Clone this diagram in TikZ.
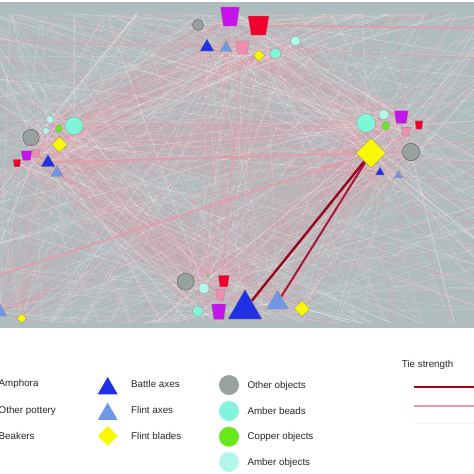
\documentclass[tikz,border=0pt]{standalone}
\usepackage{fontspec}
\setmainfont{Liberation Sans}
\usetikzlibrary{shapes.geometric, backgrounds}
\definecolor{BG}{RGB}{176,189,191}
\definecolor{PU}{RGB}{196,20,235}
\definecolor{RD}{RGB}{242,0,45}
\definecolor{PK}{RGB}{242,140,175}
\definecolor{BA}{RGB}{32,48,228}
\definecolor{FA}{RGB}{112,150,232}
\definecolor{FB}{RGB}{250,248,0}
\definecolor{OO}{RGB}{152,160,160}
\definecolor{AB}{RGB}{128,245,218}
\definecolor{CU}{RGB}{105,232,30}
\definecolor{AO}{RGB}{178,246,236}
\definecolor{TS}{RGB}{150,8,25}
\definecolor{TD}{RGB}{172,22,55}
\definecolor{TW}{RGB}{232,152,168}
\definecolor{DG}{RGB}{70,70,70}

\begin{document}
\begin{tikzpicture}[x=1pt, y=-1pt,
  obj/.style={circle, draw=DG, line width=0.3pt, inner sep=0pt, fill=OO},
  bead/.style={circle, draw=DG!60, line width=0.3pt, inner sep=0pt},
  pot/.style={trapezium, trapezium stretches=true, trapezium angle=78,
    shape border rotate=180, draw=DG!60, line width=0.3pt, inner sep=0.5pt},
  axe/.style={regular polygon, regular polygon sides=3, draw=DG!60,
    line width=0.3pt, inner sep=0pt},
  blade/.style={diamond, draw=DG!60, line width=0.3pt, inner sep=0pt, fill=FB},
  key/.style={font=\fontsize{9.8}{11}\selectfont, text=black!85, anchor=west, inner sep=0pt},
  web/.style={white, line width=0.35pt, opacity=0.3},
  webp/.style={TW, line width=0.35pt, opacity=0.3},
  tie/.style={TW, line width=1.8pt, opacity=0.85},
  strong/.style={TS, line width=2.4pt}]
\useasboundingbox (0,0) rectangle (474,474);

% Top cluster
\node[obj, minimum size=11] (t1) at (198,25) {};
\node[pot, fill=PU, minimum width=19, minimum height=19] (t2) at (230,16.5) {};
\node[pot, fill=RD, minimum width=21, minimum height=19] (t3) at (258.5,25.5) {};
\node[axe, fill=BA, minimum size=16.2] (t4) at (207,47) {};
\node[axe, fill=FA, minimum size=13.9] (t5) at (226,48) {};
\node[pot, fill=PK, minimum width=13, minimum height=13] (t6) at (242.5,47.5) {};
\node[blade, minimum size=12] (t7) at (259,55.5) {};
\node[bead, fill=AB, minimum size=11] (t8) at (275.5,53.5) {};
\node[bead, fill=AO, minimum size=10] (t9) at (295.5,41) {};

% Left cluster
\node[bead, fill=AO, minimum size=8] (l1) at (50,119.5) {};
\node[bead, fill=AO, minimum size=7] (l2) at (46,131) {};
\node[bead, fill=CU, minimum size=7] (l3) at (59,128.5) {};
\node[bead, fill=AB, minimum size=18] (l4) at (74,126) {};
\node[obj, minimum size=16.5] (l5) at (31,137.5) {};
\node[blade, minimum size=16] (l6) at (59.5,144.5) {};
\node[pot, fill=PU, minimum width=11, minimum height=9.5] (l7) at (26.5,155.5) {};
\node[pot, fill=PK, minimum width=8, minimum height=8] (l8) at (36,153.5) {};
\node[pot, fill=RD, minimum width=8, minimum height=7.5] (l9) at (17,163) {};
\node[axe, fill=BA, minimum size=16.2] (l10) at (48,162.5) {};
\node[axe, fill=FA, minimum size=14.6] (l11) at (57,172.8) {};

% Right cluster
\node[bead, fill=AB, minimum size=19] (r1) at (366,123) {};
\node[bead, fill=AO, minimum size=10.5] (r2) at (383.7,114.7) {};
\node[bead, fill=CU, minimum size=8] (r3) at (385.5,126) {};
\node[pot, fill=PU, minimum width=14, minimum height=12.5] (r4) at (401.3,117) {};
\node[pot, fill=PK, minimum width=9, minimum height=8.7] (r5) at (406,131.7) {};
\node[pot, fill=RD, minimum width=8, minimum height=8.3] (r6) at (419,125) {};
\node[blade, minimum size=30] (r7) at (371,153) {};
\node[obj, minimum size=17.5] (r8) at (411,152) {};
\node[axe, fill=BA, minimum size=10.4] (r9) at (380,172.3) {};
\node[axe, fill=FA, minimum size=9.8] (r10) at (398.5,175.3) {};

% Bottom cluster
\node[obj, minimum size=17] (b1) at (185.7,281.7) {};
\node[bead, fill=CU, minimum size=3] (b2) at (208,276) {};
\node[pot, fill=RD, minimum width=11, minimum height=11.5] (b3) at (223.8,281) {};
\node[bead, fill=AO, minimum size=11] (b4) at (203.8,288.3) {};
\node[pot, fill=PK, minimum width=9.3, minimum height=11] (b5) at (220.3,295) {};
\node[bead, fill=AB, minimum size=11] (b6) at (197.8,311.2) {};
\node[pot, fill=PU, minimum width=14.3, minimum height=15.3] (b7) at (218.8,311.7) {};
\node[axe, fill=BA, minimum size=39.2] (b8) at (245,309.2) {};
\node[axe, fill=FA, minimum size=25] (b9) at (277.5,302.7) {};
\node[blade, minimum size=16] (b10) at (302,308.7) {};
\node[blade, minimum size=10] (b11) at (21.7,318.3) {};
\node[axe, fill=FA, minimum size=16] (b12) at (0,312) {};

% Frame points for the fans
\foreach \i in {0,...,14} {
  \pgfmathtruncatemacro\ja{\i+15}
  \pgfmathtruncatemacro\jb{\i+30}
  \pgfmathtruncatemacro\jc{\i+45}
  \coordinate (e\i) at (-10,{15+21*\i});
  \coordinate (e\ja) at (484,{15+21*\i});
  \coordinate (e\jb) at ({10+32*\i},12);
  \coordinate (e\jc) at ({10+32*\i},338);
}
\coordinate (wL1) at (0,275);
\coordinate (wL2) at (0,42);
\coordinate (wR1) at (474,28);
\coordinate (wR2) at (474,58);

% Web of ties
\begin{scope}[on background layer]
  \fill[BG] (0,2) rectangle (474,328);
  \clip (0,14) rectangle (474,322);
  \pgfmathsetseed{42}
  \foreach \a/\na/\b/\nb in {t/9/l/11, t/9/r/10, t/9/b/12, l/11/r/10, l/11/b/12, r/10/b/12}
    \foreach \i in {1,...,\na}
      \foreach \j in {1,...,\nb}
        \draw[webp, opacity=0.22] (\a\i) -- (\b\j);
  \foreach \a/\na in {t/9, l/11, r/10, b/12}
    \foreach \i in {1,...,\na}
      \foreach \k in {1,...,11} {
        \pgfmathtruncatemacro\e{random(0,59)}
        \pgfmathtruncatemacro\f{random(0,59)}
        \draw[web] (\a\i) -- (e\e);
        \draw[webp] (\a\i) -- (e\f);
      }
  \draw[tie] (t3) -- (wR1);
  \draw[tie, line width=1.2pt, opacity=0.6] (wL2) -- (t6) -- (wR2);
  \draw[tie] (l10) -- (r7);
  \draw[tie] (wL1) -- (r7);
  \draw[tie, line width=1.2pt] (r7) -- (r8);
  \draw[tie, line width=1pt, opacity=0.6] (t6) -- (b5);
  \draw[strong] (r7) -- (b8);
  \draw[strong, TD, line width=2pt] (r7) -- (b9);
\end{scope}

% Legend
\node[key] (kAmph) at (-1.5,384.3) {Amphora};
\node[key] (kOth) at (-1.5,410.7) {Other pottery};
\node[key] (kBeak) at (-1.5,435.7) {Beakers};
\node[axe, fill=BA, draw=none, minimum size=23] (kBA) at (107.7,388.5) {};
\node[axe, fill=FA, draw=none, minimum size=23] (kFA) at (107.7,414.2) {};
\node[blade, draw=none, minimum size=20] (kFB) at (107.7,436) {};
\node[key] (tBA) at (131,384.3) {Battle axes};
\node[key] (tFA) at (131,410) {Flint axes};
\node[key] (tFB) at (131,435.7) {Flint blades};
\node[obj, draw=none, minimum size=20] (kOO) at (229,385) {};
\node[bead, fill=AB, draw=none, minimum size=20] (kAB) at (229,411) {};
\node[bead, fill=CU, draw=none, minimum size=20] (kCU) at (229,436.7) {};
\node[bead, fill=AO, draw=none, minimum size=20] (kAO) at (229,462) {};
\node[key] (tOO) at (247.3,386) {Other objects};
\node[key] (tAB) at (247.3,410.7) {Amber beads};
\node[key] (tCU) at (247.3,437.3) {Copper objects};
\node[key] (tAO) at (247.3,462.7) {Amber objects};
\node[key] (tTie) at (401.7,365) {Tie strength};
\coordinate (ks1) at (414,387);
\coordinate (ks2) at (476,387);
\coordinate (kw1) at (414,405.7);
\coordinate (kw2) at (476,405.7);
\coordinate (kf1) at (414,423.3);
\coordinate (kf2) at (476,423.3);
\draw[strong, line width=2pt] (ks1) -- (ks2);
\draw[TW, line width=2pt] (kw1) -- (kw2);
\draw[black!4, line width=1.5pt] (kf1) -- (kf2);
\end{tikzpicture}
\end{document}
